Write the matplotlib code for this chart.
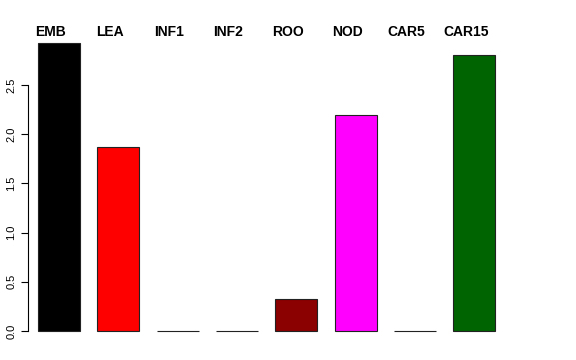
import matplotlib.pyplot as plt

# Daten
samples = ["EMB", "LEA", "INF1", "INF2", "ROO", "NOD", "CAR5", "CAR15"]
values = [2.93, 1.87, 0.0, 0.0, 0.325, 2.195, 0.0, 2.805]
colors = ["black", "red", "gray", "gray", "#8B0000", "magenta", "gray", "#006400"]
yticks = [0.0, 0.5, 1.0, 1.5, 2.0, 2.5]

plt.rcParams["font.family"] = ["Liberation Sans", "DejaVu Sans"]

fig = plt.figure(figsize=(5.76, 3.6), dpi=100)
ax = fig.add_axes([0.0491, 0.0486, 0.8358, 0.8639])

x = list(range(len(samples)))
ax.bar(x, values, width=0.708, color=colors, edgecolor="#222222", linewidth=0.8)

ax.set_xlim(-0.518, 7.6)
ax.set_ylim(-0.117, 3.044)

# nur linke Achse wie in R
for side in ["top", "right", "bottom"]:
    ax.spines[side].set_visible(False)
ax.spines["left"].set_bounds(0, 2.5)
ax.spines["left"].set_linewidth(0.8)
ax.set_xticks([])
ax.set_yticks(yticks)
ax.set_yticklabels([f"{t:.1f}" for t in yticks], rotation=90, va="center", fontsize=8)
ax.tick_params(axis="y", length=5, width=0.8, pad=3.5)

# Beschriftungen oben (leicht nach links versetzt wie im Original)
for xi, name in zip(x, samples):
    ax.text(xi - 0.143, 0.984, name, transform=ax.get_xaxis_transform(),
            ha="center", va="baseline", fontsize=10, fontweight="bold")

fig.savefig("out.png", dpi=100)
plt.close(fig)
